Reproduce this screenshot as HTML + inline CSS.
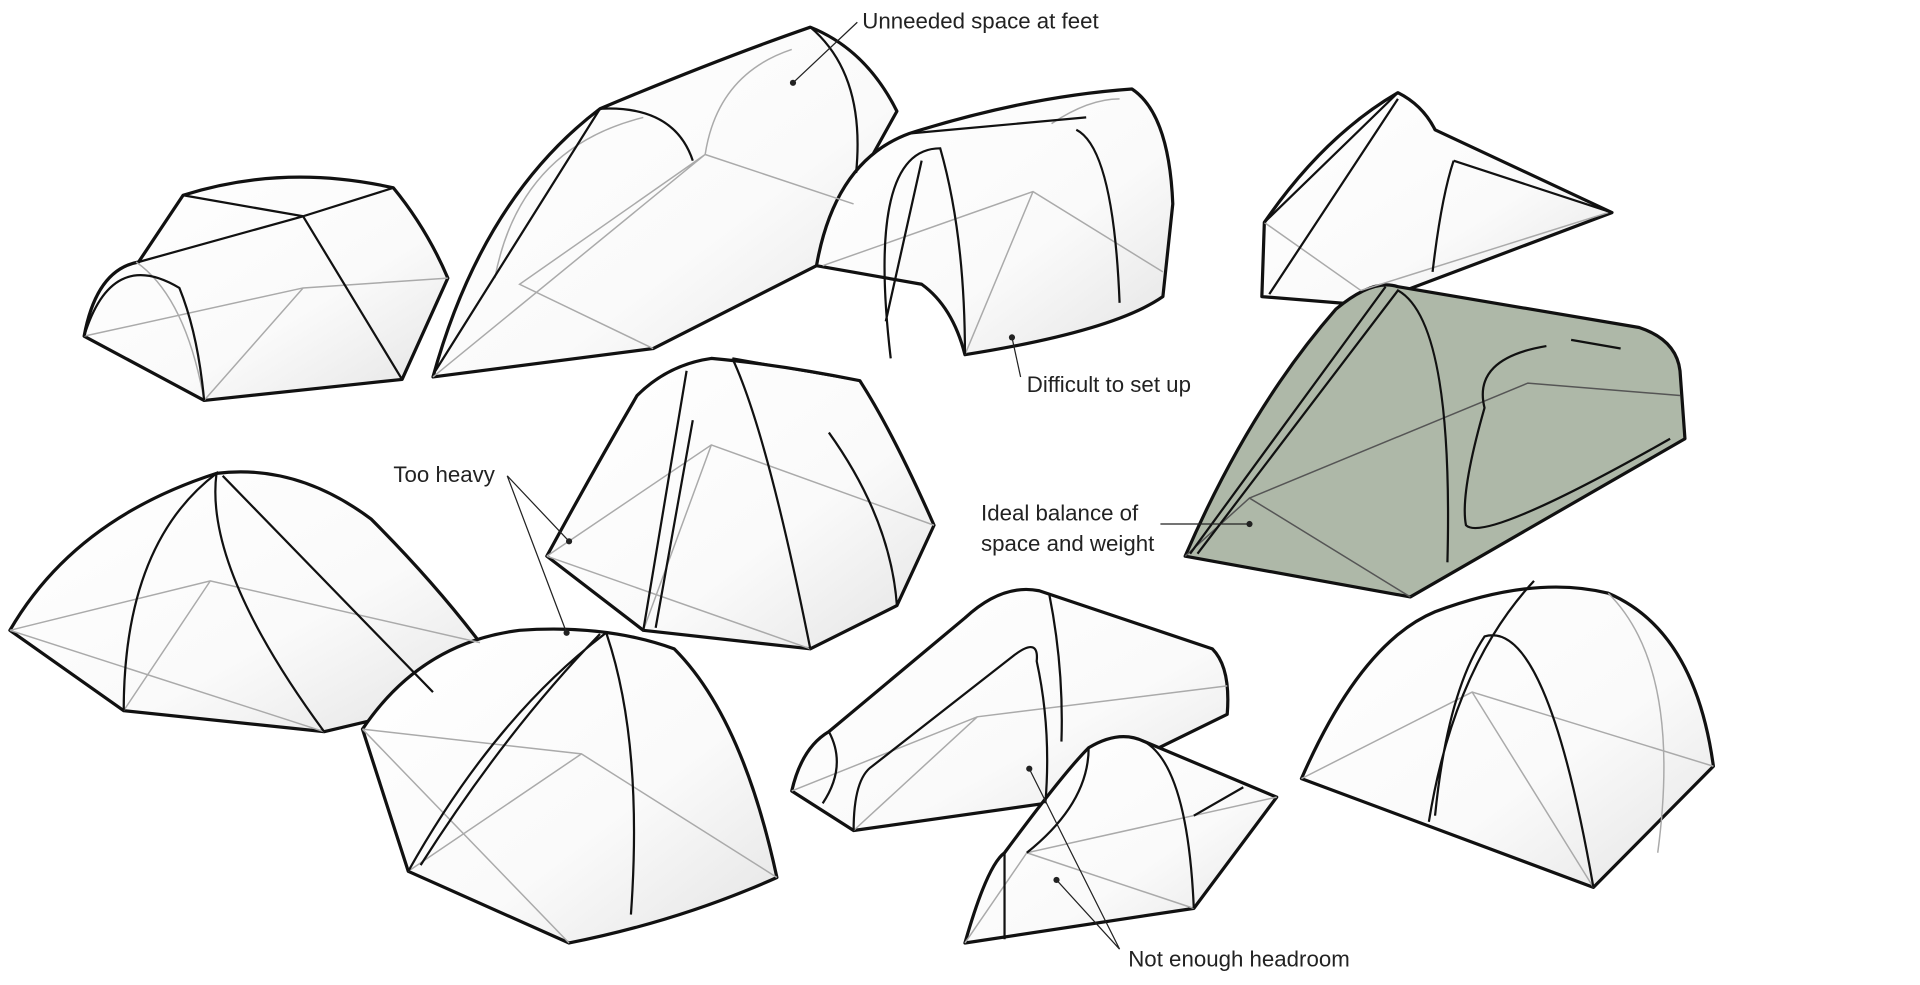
<!DOCTYPE html>
<html><head><meta charset="utf-8">
<style>
html,body{margin:0;padding:0;background:#fff;}
svg{display:block;}
text{font-family:"Liberation Sans",sans-serif;font-size:18px;fill:#222;}
</style></head>
<body>
<svg width="1920" height="985" viewBox="0 0 1552 797" preserveAspectRatio="none" xmlns="http://www.w3.org/2000/svg">
<defs>
<linearGradient id="g" x1="0" y1="0" x2="1" y2="1">
<stop offset="0" stop-color="#ffffff"/><stop offset="0.6" stop-color="#fafafa"/><stop offset="1" stop-color="#e4e4e4"/>
</linearGradient>
</defs>
<g fill="url(#g)" stroke="#111" stroke-width="2.6" stroke-linejoin="round">
<path d="M68,272 Q78,218 112,212 L148,158 Q230,132 318,152 Q345,185 362,225 L325,307 L165,324 Z"/>
<path d="M350,305 Q390,160 485,88 Q580,48 655,22 Q700,40 725,90 L700,135 L660,215 L528,282 Z"/>
<path d="M660,215 Q675,130 735,108 Q830,78 915,72 Q945,92 948,165 L940,240 Q900,268 780,287 Q770,248 745,230 Z"/>
<path d="M1020,240 L1022,180 Q1070,110 1130,75 Q1150,85 1160,105 L1303,172 L1136,235 L1142,250 Z"/>
<path fill="#aeb8a8" d="M958,450 Q1010,330 1080,250 Q1110,225 1130,232 L1325,265 Q1355,275 1358,300 L1362,355 L1140,483 Z"/>
<path d="M442,450 Q480,380 515,320 Q540,295 575,290 Q630,295 695,308 Q722,350 755,425 L725,490 L655,525 L520,510 Z"/>
<path d="M8,510 Q60,420 175,383 Q240,375 300,420 Q350,470 388,520 L300,583 L262,592 L100,575 Z"/>
<path d="M293,590 Q340,520 420,510 Q490,505 545,525 Q600,580 628,710 Q550,745 460,763 L330,705 Z"/>
<path d="M640,640 Q648,605 670,592 L780,500 Q810,472 840,478 L980,525 Q995,540 992,578 L845,650 L690,672 Z"/>
<path d="M780,763 Q798,700 812,690 Q860,625 880,605 Q905,590 925,600 L1032,645 L965,735 Z"/>
<path d="M1052,630 Q1100,520 1160,495 Q1240,465 1300,480 Q1370,510 1385,620 L1288,718 Z"/>
</g>
<g fill="none" stroke="#aaa" stroke-width="1.2">
<path d="M68,272 L245,233 L362,225 M165,324 L245,233 M110,212 Q150,240 165,324"/>
<path d="M350,305 L570,125 L690,165 M528,282 L420,230 L570,125 M400,225 Q420,120 520,95 M570,125 Q580,60 640,40"/>
<path d="M665,215 L835,155 L940,220 M780,287 L835,155 M850,100 Q880,80 905,80"/>
<path d="M1022,180 L1100,235 L1300,172"/>
<path d="M958,450 L1010,403 L1140,483 M1010,403 L1235,310 L1358,320" stroke="#555"/>
<path d="M442,450 L575,360 L755,425 M520,510 L575,360 M655,525 L442,450"/>
<path d="M8,510 L170,470 L388,520 M100,575 L170,470 M262,592 L8,510"/>
<path d="M293,590 L470,610 L628,710 M330,705 L470,610 M460,763 L293,590"/>
<path d="M640,640 L790,580 L992,555 M690,672 L790,580"/>
<path d="M780,763 L830,690 L1032,645 M965,735 L830,690"/>
<path d="M1052,630 L1190,560 L1385,620 M1288,718 L1190,560 M1300,480 Q1360,540 1340,690"/>
</g>
<g fill="none" stroke="#111" stroke-width="1.8">
<path d="M68,272 Q90,200 145,233 Q160,270 165,324 M148,158 L245,175 L318,152 M245,175 L325,307 M245,175 L112,212"/>
<path d="M352,300 L485,88 Q545,85 560,130 M655,22 Q700,60 692,140"/>
<path d="M720,290 Q700,120 760,120 Q780,190 780,287 M735,108 L878,95 M716,260 L745,130 M870,105 Q900,120 905,245"/>
<path d="M1022,180 L1130,75 M1026,238 L1130,80 M1175,130 Q1165,160 1158,220 M1175,130 L1303,172"/>
<path d="M962,448 L1120,232 M968,448 L1130,235 Q1175,260 1170,455 M1250,280 Q1190,290 1200,330 Q1180,400 1185,425 Q1200,440 1350,355 M1270,275 L1310,282"/>
<path d="M520,510 L555,300 M530,508 L560,340 M592,290 Q620,350 655,525 M670,350 Q720,420 725,490 M592,290 L695,308"/>
<path d="M100,575 Q100,440 175,383 Q165,460 262,592 M180,385 L350,560"/>
<path d="M330,705 Q400,580 490,512 Q520,600 510,740 M340,700 Q410,590 485,513"/>
<path d="M690,672 Q690,630 705,620 L820,530 Q840,515 838,535 Q850,590 845,650 M670,592 Q685,620 665,650 M848,480 Q860,540 858,600"/>
<path d="M812,690 L812,760 M880,605 Q880,650 830,690 M925,600 Q960,620 965,735 M965,660 L1005,637"/>
<path d="M1160,660 Q1170,560 1200,515 Q1250,500 1288,718 M1155,665 Q1175,540 1240,470"/>
</g>
<g stroke="#222" stroke-width="1" fill="none">
<path d="M693,18 L641,67"/>
<path d="M825,305 L818,273"/>
<path d="M410,385 L460,438 M410,385 L458,512"/>
<path d="M938,424 L1010,424"/>
<path d="M905,768 L832,622 M905,768 L854,712"/>
</g>
<g fill="#222">
<circle cx="641" cy="67" r="2.5"/><circle cx="818" cy="273" r="2.5"/>
<circle cx="460" cy="438" r="2.5"/><circle cx="458" cy="512" r="2.5"/>
<circle cx="1010" cy="424" r="2.5"/><circle cx="832" cy="622" r="2.5"/><circle cx="854" cy="712" r="2.5"/>
</g>
<text x="697" y="23">Unneeded space at feet</text>
<text x="830" y="317">Difficult to set up</text>
<text x="318" y="390">Too heavy</text>
<text x="793" y="421">Ideal balance of</text>
<text x="793" y="446">space and weight</text>
<text x="912" y="782">Not enough headroom</text>
</svg>
</body></html>
